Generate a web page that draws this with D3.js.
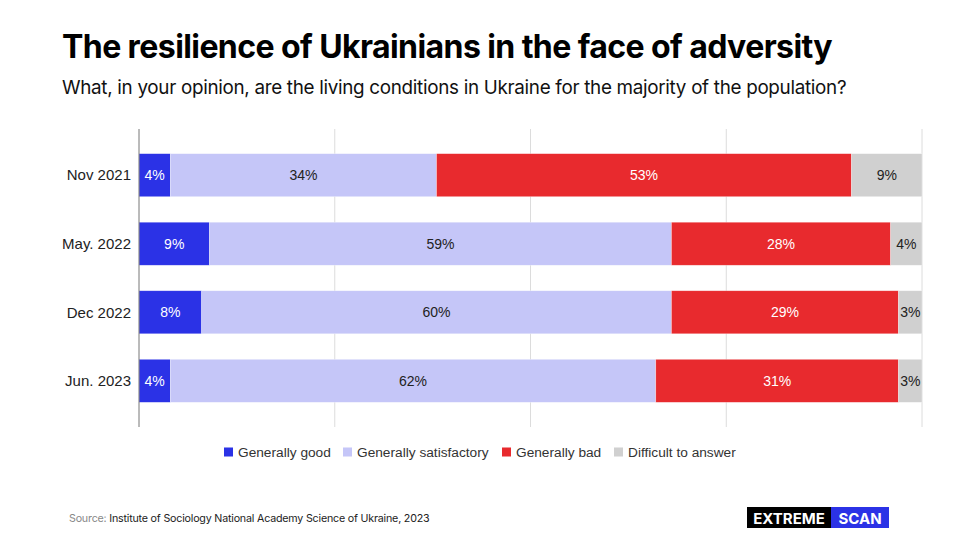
<!DOCTYPE html>
<html>
<head>
<meta charset="utf-8">
<script src="https://cdn.jsdelivr.net/npm/d3@7"></script>
<style>
  body { margin: 0; background: #fff; }
  svg { display: block; }
</style>
</head>
<body>
<div id="container"></div>
<script>
// categories and series
const periods = ["Nov 2021", "May. 2022", "Dec 2022", "Jun. 2023"];
const seriesNames = ["Generally good", "Generally satisfactory", "Generally bad", "Difficult to answer"];
const good = [4, 9, 8, 4];
const satisfactory = [34, 59, 60, 62];
const bad = [53, 28, 29, 31];
const difficult = [9, 4, 3, 3];
const xTicks = [0, 25, 50, 75, 100];

const colors = ["#2b32e6", "#c5c6f8", "#e82a2e", "#d0d0d0"];
const labelColors = ["#fff", "#222", "#fff", "#222"];

const width = 960, height = 540;
const margin = { top: 129, right: 38, bottom: 113, left: 139 };

const svg = d3.select("#container")
  .append("svg")
  .attr("width", width)
  .attr("height", height);

// fit a text element to a target width by adjusting font size
function fitWidth(sel, target) {
  const w = sel.node().getComputedTextLength();
  const fs = parseFloat(sel.attr("font-size"));
  sel.attr("font-size", fs * target / w);
}

// title + subtitle
const title = svg.append("text")
  .attr("x", 62).attr("y", 58)
  .attr("font-family", "Inter, sans-serif")
  .attr("font-weight", 700)
  .attr("font-size", 30)
  .attr("letter-spacing", -0.6)
  .attr("fill", "#000")
  .text("The resilience of Ukrainians in the face of adversity");
fitWidth(title, 768);

const subtitle = svg.append("text")
  .attr("x", 62).attr("y", 94)
  .attr("font-family", "Inter, sans-serif")
  .attr("font-weight", 400)
  .attr("font-size", 18)
  .attr("letter-spacing", -0.3)
  .attr("fill", "#111")
  .text("What, in your opinion, are the living conditions in Ukraine for the majority of the population?");
fitWidth(subtitle, 783);

// build stacked data
const table = periods.map((p, i) => ({
  period: p,
  "Generally good": good[i],
  "Generally satisfactory": satisfactory[i],
  "Generally bad": bad[i],
  "Difficult to answer": difficult[i]
}));
const stacked = d3.stack().keys(seriesNames)(table);

const x = d3.scaleLinear().domain([0, 100]).range([margin.left, width - margin.right]);
const y = d3.scaleBand()
  .domain(periods)
  .range([margin.top, height - margin.bottom])
  .paddingInner(0.372)
  .paddingOuter(0.36);

// grid
svg.append("g")
  .selectAll("line")
  .data(xTicks.slice(1))
  .enter()
  .append("line")
  .attr("x1", d => x(d)).attr("x2", d => x(d))
  .attr("y1", margin.top).attr("y2", height - margin.bottom)
  .attr("stroke", "#dcdcdc")
  .attr("stroke-width", 1);

// bars
const layers = svg.append("g")
  .selectAll("g")
  .data(stacked)
  .enter()
  .append("g")
  .attr("fill", (d, i) => colors[i]);

layers.selectAll("rect")
  .data(d => d)
  .enter()
  .append("rect")
  .attr("x", d => x(d[0]))
  .attr("y", d => y(d.data.period))
  .attr("width", d => x(d[1]) - x(d[0]))
  .attr("height", y.bandwidth())
  .attr("stroke", "#fff")
  .attr("stroke-opacity", 0.5)
  .attr("stroke-width", 0.6);

// value labels
layers.each(function (layer, li) {
  d3.select(this).selectAll("text")
    .data(layer)
    .enter()
    .append("text")
    .attr("x", d => (x(d[0]) + x(d[1])) / 2)
    .attr("y", d => y(d.data.period) + y.bandwidth() / 2)
    .attr("dy", "0.35em")
    .attr("text-anchor", "middle")
    .attr("font-family", "Liberation Sans, Arial, sans-serif")
    .attr("font-size", 14)
    .attr("fill", labelColors[li])
    .text(d => (d[1] - d[0]) + "%");
});

// y axis line
svg.append("line")
  .attr("x1", x(0)).attr("x2", x(0))
  .attr("y1", margin.top).attr("y2", height - margin.bottom)
  .attr("stroke", "#777")
  .attr("stroke-width", 1);

// y labels
svg.append("g")
  .selectAll("text")
  .data(periods)
  .enter()
  .append("text")
  .attr("x", x(0) - 8)
  .attr("y", d => y(d) + y.bandwidth() / 2)
  .attr("dy", "0.35em")
  .attr("text-anchor", "end")
  .attr("font-family", "Liberation Sans, Arial, sans-serif")
  .attr("font-size", 15)
  .attr("fill", "#222")
  .text(d => d);

// legend
const legendX = [224, 343, 502, 614];
const legend = svg.append("g")
  .selectAll("g")
  .data(seriesNames)
  .enter()
  .append("g")
  .attr("transform", (d, i) => `translate(${legendX[i]}, 452)`);
legend.append("rect")
  .attr("x", 0).attr("y", -4.5)
  .attr("width", 9).attr("height", 9)
  .attr("fill", (d, i) => colors[i]);
legend.append("text")
  .attr("x", 14)
  .attr("dy", "0.35em")
  .attr("font-family", "Liberation Sans, Arial, sans-serif")
  .attr("font-size", 13.7)
  .attr("fill", "#333")
  .text(d => d);

// source
const src = svg.append("text")
  .attr("x", 69).attr("y", 522)
  .attr("font-family", "Inter, sans-serif")
  .attr("font-size", 10.7)
  .attr("letter-spacing", -0.2)
  .attr("fill", "#222");
src.append("tspan").attr("fill", "#888").text("Source: ");
src.append("tspan").text("Institute of Sociology National Academy Science of Ukraine, 2023");

// logo
const logo = svg.append("g").attr("transform", "translate(747, 507)");
logo.append("rect").attr("width", 84).attr("height", 21).attr("fill", "#000");
logo.append("rect").attr("x", 84).attr("width", 58).attr("height", 21).attr("fill", "#2b32e6");
logo.append("text")
  .attr("x", 42).attr("y", 16.5)
  .attr("text-anchor", "middle")
  .attr("font-family", "Inter, sans-serif")
  .attr("font-weight", 700)
  .attr("font-size", 15)
  .attr("fill", "#fff")
  .text("EXTREME");
logo.append("text")
  .attr("x", 113).attr("y", 16.5)
  .attr("text-anchor", "middle")
  .attr("font-family", "Inter, sans-serif")
  .attr("font-weight", 700)
  .attr("font-size", 15)
  .attr("fill", "#fff")
  .text("SCAN");
</script>
</body>
</html>
